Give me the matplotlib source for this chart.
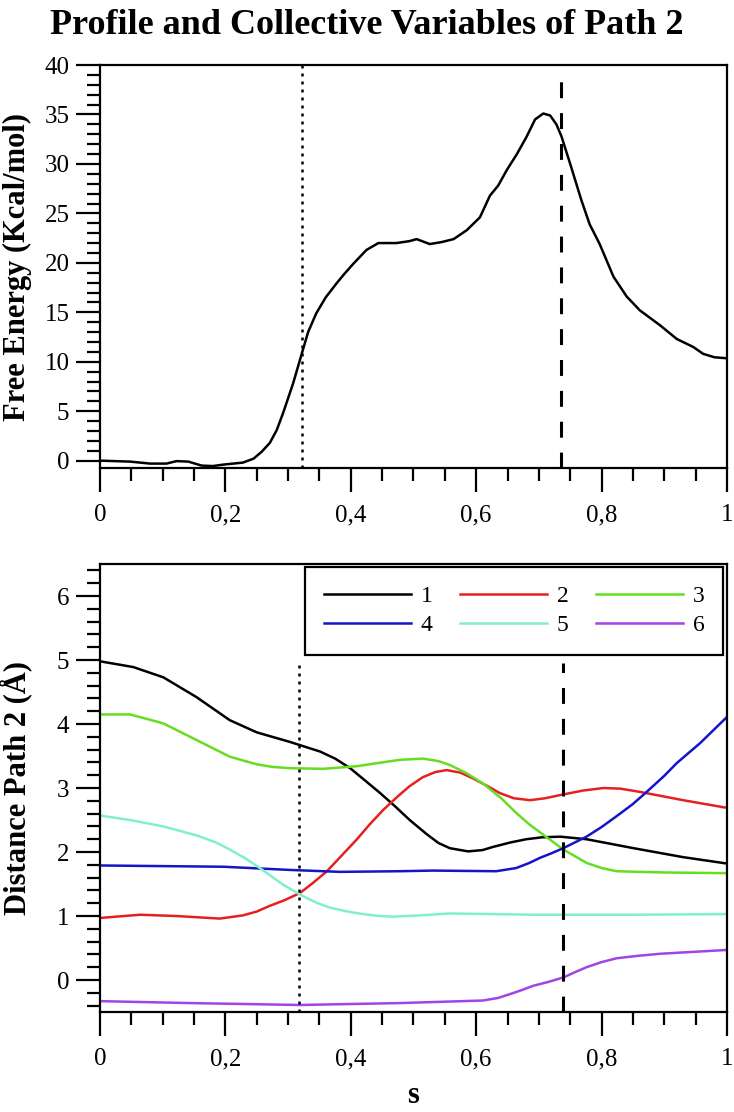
import matplotlib
matplotlib.use('Agg')
import matplotlib.pyplot as plt
from matplotlib.ticker import MultipleLocator, FuncFormatter

plt.rcParams['font.family'] = ['Liberation Serif', 'DejaVu Serif']

# free energy profile (top panel)
s_fe = [0.0, 0.048, 0.08, 0.106, 0.122, 0.141, 0.162, 0.18, 0.197, 0.228,
        0.245, 0.258, 0.271, 0.282, 0.292, 0.308, 0.322, 0.332, 0.345, 0.36,
        0.377, 0.39, 0.404, 0.425, 0.444, 0.473, 0.494, 0.505, 0.526, 0.545,
        0.564, 0.585, 0.606, 0.622, 0.635, 0.649, 0.665, 0.680, 0.694, 0.707,
        0.718, 0.728, 0.736, 0.750, 0.768, 0.781, 0.797, 0.819, 0.840, 0.861,
        0.893, 0.920, 0.946, 0.962, 0.98, 1.0]
free_energy = [0.0, -0.1, -0.3, -0.3, -0.05, -0.1, -0.5, -0.55, -0.4, -0.2,
               0.2, 0.9, 1.8, 3.1, 4.8, 7.8, 10.85, 13.0, 14.9, 16.5,
               17.9, 18.9, 19.9, 21.3, 22.0, 22.0, 22.2, 22.4, 21.9, 22.1,
               22.4, 23.3, 24.6, 26.8, 27.8, 29.4, 31.0, 32.7, 34.5, 35.1,
               34.9, 34.0, 32.8, 30.0, 26.3, 23.9, 21.9, 18.6, 16.6, 15.2,
               13.7, 12.3, 11.5, 10.8, 10.45, 10.35]

# collective variables (bottom panel)
s1 = [0.0, 0.053, 0.101, 0.154, 0.207, 0.25, 0.303, 0.351, 0.375, 0.399,
      0.42, 0.447, 0.47, 0.494, 0.521, 0.54, 0.558, 0.587, 0.61, 0.627,
      0.655, 0.680, 0.705, 0.734, 0.776, 0.851, 0.930, 1.0]
cv1 = [4.98, 4.89, 4.73, 4.42, 4.06, 3.87, 3.72, 3.57, 3.46, 3.31,
       3.14, 2.92, 2.72, 2.50, 2.28, 2.14, 2.06, 2.01, 2.03, 2.08,
       2.15, 2.20, 2.23, 2.24, 2.20, 2.06, 1.92, 1.82]

s2 = [0.0, 0.064, 0.122, 0.191, 0.228, 0.25, 0.271, 0.295, 0.319, 0.34,
      0.362, 0.385, 0.409, 0.43, 0.452, 0.475, 0.494, 0.515, 0.535, 0.553,
      0.575, 0.595, 0.618, 0.638, 0.66, 0.686, 0.71, 0.734, 0.77, 0.803,
      0.83, 0.861, 0.930, 1.0]
cv2 = [0.97, 1.02, 1.00, 0.96, 1.01, 1.07, 1.16, 1.25, 1.36, 1.52,
       1.70, 1.94, 2.19, 2.43, 2.66, 2.87, 3.03, 3.17, 3.25, 3.28,
       3.24, 3.15, 3.03, 2.92, 2.84, 2.81, 2.84, 2.89, 2.96, 3.00,
       2.99, 2.94, 2.81, 2.69]

s3 = [0.0, 0.048, 0.101, 0.154, 0.207, 0.25, 0.275, 0.303, 0.356, 0.409,
      0.45, 0.478, 0.515, 0.54, 0.558, 0.585, 0.611, 0.64, 0.664, 0.685,
      0.707, 0.739, 0.776, 0.80, 0.824, 0.86, 0.904, 1.0]
cv3 = [4.15, 4.15, 4.01, 3.75, 3.49, 3.37, 3.33, 3.31, 3.30, 3.34,
       3.40, 3.44, 3.46, 3.42, 3.36, 3.23, 3.07, 2.84, 2.61, 2.43,
       2.27, 2.04, 1.83, 1.75, 1.70, 1.69, 1.68, 1.67]

s4 = [0.0, 0.197, 0.303, 0.383, 0.478, 0.531, 0.632, 0.664, 0.685, 0.702,
      0.72, 0.739, 0.776, 0.80, 0.824, 0.85, 0.872, 0.90, 0.920, 0.957,
      1.0]
cv4 = [1.79, 1.77, 1.72, 1.69, 1.70, 1.71, 1.70, 1.75, 1.83, 1.91,
       1.98, 2.06, 2.24, 2.39, 2.56, 2.75, 2.94, 3.19, 3.39, 3.70,
       4.11]

s5 = [0.0, 0.048, 0.101, 0.154, 0.185, 0.207, 0.232, 0.255, 0.275, 0.292,
      0.324, 0.345, 0.367, 0.395, 0.420, 0.445, 0.468, 0.51, 0.558, 0.691,
      0.851, 1.0]
cv5 = [2.57, 2.50, 2.40, 2.26, 2.15, 2.04, 1.90, 1.75, 1.61, 1.49,
       1.31, 1.21, 1.13, 1.07, 1.03, 1.00, 0.99, 1.01, 1.04, 1.02,
       1.02, 1.03]

s6 = [0.0, 0.144, 0.319, 0.478, 0.611, 0.635, 0.654, 0.672, 0.691, 0.715,
      0.739, 0.757, 0.776, 0.80, 0.824, 0.86, 0.893, 1.0]
cv6 = [-0.33, -0.36, -0.39, -0.36, -0.32, -0.28, -0.22, -0.16, -0.09, -0.03,
       0.04, 0.12, 0.20, 0.28, 0.34, 0.38, 0.41, 0.47]

cv_labels = ['1', '2', '3', '4', '5', '6']
cv_colors = ['black', '#e62020', '#66dd22', '#1414c8', '#80f0cc', '#a044e6']

s_dotted_top, s_dashed_top = 0.322, 0.735
s_dotted_bot, s_dashed_bot = 0.318, 0.738

comma = FuncFormatter(lambda v, p: ('%g' % v).replace('.', ','))


def style_axes(ax):
    for sp in ax.spines.values():
        sp.set_linewidth(1.6)
    ax.tick_params(which='both', direction='out', width=1.6, labelsize=18,
                   top=False, right=False)
    ax.tick_params(which='major', length=17)
    ax.tick_params(which='minor', length=9.5)
    ax.tick_params(axis='x', pad=9)
    ax.tick_params(axis='y', pad=5)
    ax.set_xlim(0, 1)
    ax.xaxis.set_major_locator(MultipleLocator(0.2))
    ax.xaxis.set_minor_locator(MultipleLocator(0.05))
    ax.xaxis.set_major_formatter(comma)


fig = plt.figure(figsize=(7.34, 11.12), dpi=100)
fig.suptitle('Profile and Collective Variables of Path 2', fontsize=26,
             fontweight='bold', y=0.992, va='top')

ax1 = fig.add_axes([0.1362, 0.5791, 0.8542, 0.3624])
style_axes(ax1)
ax1.plot(s_fe, free_energy, color='black', lw=1.8, solid_joinstyle='round')
ax1.set_ylim(-0.75, 40)
ax1.yaxis.set_major_locator(MultipleLocator(5))
ax1.yaxis.set_minor_locator(MultipleLocator(1))
ax1.axvline(s_dotted_top, color='black', lw=1.8, ls=(0, (1.2, 2.0)))
ax1.vlines(s_dashed_top, -0.75, 39, color='black', lw=2.2, ls=(0, (5.2, 4.9)))
ax1.set_ylabel('Free Energy (Kcal/mol)', fontsize=22, fontweight='bold')
ax1.yaxis.set_label_coords(-0.108, 0.5)

ax2 = fig.add_axes([0.1362, 0.0899, 0.8542, 0.4029])
style_axes(ax2)
series = [(s1, cv1), (s2, cv2), (s3, cv3), (s4, cv4), (s5, cv5), (s6, cv6)]
handles = []
for (sx, sy), lab, col in zip(series, cv_labels, cv_colors):
    h, = ax2.plot(sx, sy, color=col, lw=1.8, label=lab,
                  solid_joinstyle='round')
    handles.append(h)
ax2.set_ylim(-0.5, 6.5)
ax2.yaxis.set_major_locator(MultipleLocator(1))
ax2.yaxis.set_minor_locator(MultipleLocator(0.2))
ax2.vlines(s_dotted_bot, -0.5, 4.96, color='black', lw=1.8, ls=(0, (1.2, 2.0)))
ax2.vlines(s_dashed_bot, -0.5, 4.96, color='black', lw=2.2, ls=(0, (5.2, 4.9)))
ax2.set_ylabel('Distance Path 2 (Å)', fontsize=22, fontweight='bold')
ax2.yaxis.set_label_coords(-0.108, 0.5)
ax2.set_xlabel('s', fontsize=22, fontweight='bold', labelpad=8)

# legend reads row-wise: 1 2 3 / 4 5 6
order = [0, 3, 1, 4, 2, 5]
leg = ax2.legend([handles[i] for i in order], [cv_labels[i] for i in order],
                 ncol=3, loc='upper left', mode='expand',
                 bbox_to_anchor=(0.327, 0.7946, 0.667, 0.1987),
                 borderaxespad=0, fontsize=17, handlelength=3.7,
                 handletextpad=0.4, columnspacing=0.4, labelspacing=0.31,
                 borderpad=0.8, fancybox=False, framealpha=1,
                 edgecolor='black')
leg.get_frame().set_linewidth(1.6)

fig.savefig('out.png', dpi=100)
